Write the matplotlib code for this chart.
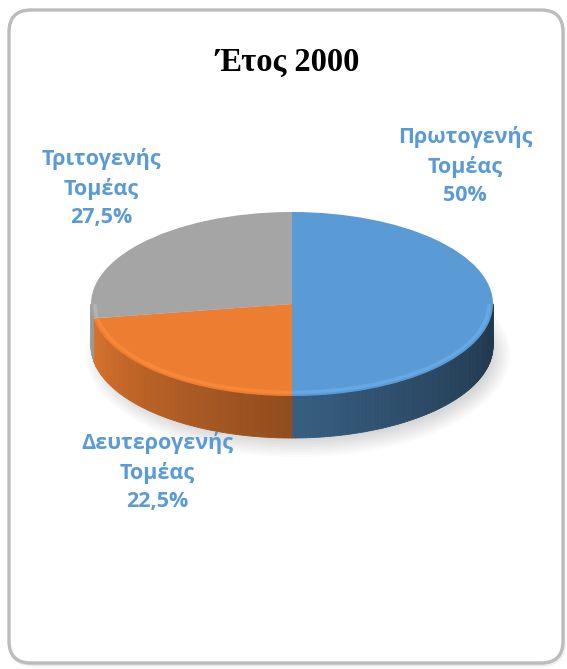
import numpy as np
import matplotlib.pyplot as plt
from matplotlib.patches import Wedge, FancyBboxPatch, Ellipse, Arc
from matplotlib.collections import PolyCollection
from matplotlib.transforms import Affine2D
from matplotlib.colors import to_rgb

# data
sectors = ['Πρωτογενής\nΤομέας', 'Δευτερογενής\nΤομέας', 'Τριτογενής\nΤομέας']
values = [50.0, 22.5, 27.5]
value_labels = ['50%', '22,5%', '27,5%']
colors = ['#5b9bd5', '#ed7d31', '#a5a5a5']
title = 'Έτος 2000'

W, H = 567, 669
fig = plt.figure(figsize=(W / 100, H / 100), dpi=100)
ax = fig.add_axes([0, 0, 1, 1])
ax.set_xlim(0, W)
ax.set_ylim(H, 0)
ax.axis('off')

# rounded frame with soft shadow
for i, a in enumerate([0.12, 0.08, 0.05]):
    ax.add_patch(FancyBboxPatch((9 + i, 11 + i), 554, 653,
                                boxstyle='round,pad=0,rounding_size=22',
                                fc='none', ec='#707070', lw=1.5, alpha=a))
ax.add_patch(FancyBboxPatch((9, 10), 554, 653,
                            boxstyle='round,pad=0,rounding_size=22',
                            fc='white', ec='#bcbcbc', lw=2.4))

ax.text(288, 62, title, ha='center', va='center', fontsize=23.5,
        fontweight='bold', family='Liberation Serif', color='black')

# pie geometry (pixels)
cx, cy, rx, ry, h = 292, 304, 201, 92, 42
ell = Affine2D().scale(rx, -ry).translate(cx, cy) + ax.transData

# shadow under pie
for k in range(8):
    ax.add_patch(Ellipse((cx + 6, cy + h + 8), 2 * rx + 22 - k * 5,
                         2 * ry + 22 - k * 5, fc='#000000', alpha=0.02,
                         ec='none'))

# angles, clockwise from 12 o'clock
fracs = np.array(values) / sum(values)
ends = 90 - 360 * np.concatenate([[0], np.cumsum(fracs)])


def shade(theta):
    t = (360 - theta) / 180.0
    return 0.36 + 0.6 * t ** 1.25


def front_ranges(t1, t2):
    lo = t1 % 360
    hi = lo + (t2 - t1)
    out = []
    for off in (0, 360, -360):
        a0 = max(lo + off, 180)
        a1 = min(hi + off, 360)
        if a1 > a0:
            out.append((a0, a1))
    return out


# side walls
polys, pcols = [], []
for i, col in enumerate(colors):
    base = np.array(to_rgb(col))
    for a0, a1 in front_ranges(ends[i + 1], ends[i]):
        angs = np.linspace(a0, a1, max(int(a1 - a0), 2) + 1)
        for p, q in zip(angs[:-1], angs[1:]):
            rp, rq = np.radians(p), np.radians(q)
            x1, y1 = cx + rx * np.cos(rp), cy - ry * np.sin(rp)
            x2, y2 = cx + rx * np.cos(rq), cy - ry * np.sin(rq)
            polys.append([(x1, y1), (x2, y2), (x2, y2 + h), (x1, y1 + h)])
            pcols.append(np.clip(base * shade((p + q) / 2), 0, 1))
ax.add_collection(PolyCollection(polys, facecolors=pcols, edgecolors=pcols,
                                 linewidths=0.6))

# top face
for i, col in enumerate(colors):
    ax.add_patch(Wedge((0, 0), 1, ends[i + 1], ends[i], fc=col, ec='none',
                       transform=ell))

# bevel highlight on front rim
for i, col in enumerate(colors):
    light = np.clip(np.array(to_rgb(col)) * 1.1 + 0.04, 0, 1)
    for a0, a1 in front_ranges(ends[i + 1], ends[i]):
        ax.add_patch(Arc((0, 0), 1.96, 1.92, theta1=a0, theta2=a1,
                         color=light, lw=2.5, alpha=0.5, transform=ell))

# labels
lab_pos = [(465, 166), (157, 472), (101, 188)]
for (x, y), s, v in zip(lab_pos, sectors, value_labels):
    ax.text(x, y, s + '\n' + v, ha='center', va='center', fontsize=15.5,
            fontweight='bold', family='Open Sans', color='#5b9bd5',
            linespacing=1.45)

fig.savefig('out.png', dpi=100)
